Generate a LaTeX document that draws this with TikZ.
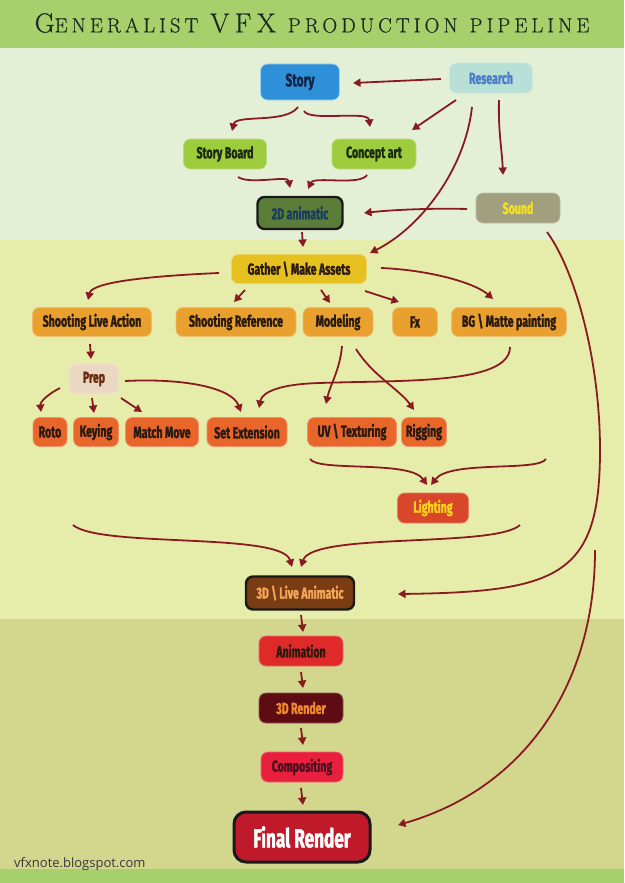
\documentclass[tikz,border=0pt]{standalone}
\usepackage{fontspec}
\usetikzlibrary{arrows.meta}
\newfontfamily\nodefont[FakeStretch=0.66, BoldFeatures={FakeBold=1.6}]{Fira Sans}
\newfontfamily\titlefont[LetterSpace=20, FakeBold=0.6]{Latin Modern Roman}
\newfontfamily\footfont{Open Sans}
\newcommand{\tbig}[1]{{\fontsize{27.5}{27.5}\selectfont #1}}
\newcommand{\tsml}[1]{{\fontsize{20.5}{20.5}\selectfont #1}}
\newcommand{\tgap}{\hspace{12pt}}
\definecolor{bandG}{HTML}{A6D06C}
\definecolor{bgA}{HTML}{E3F0D6}
\definecolor{bgB}{HTML}{E6EDAA}
\definecolor{bgC}{HTML}{D2D78D}
\definecolor{cTitle}{HTML}{1A2A1E}
\definecolor{cArrow}{HTML}{8A1A22}
\definecolor{cStory}{HTML}{2E90D8}
\definecolor{cStoryB}{HTML}{9FD2F0}
\definecolor{cStoryT}{HTML}{15254A}
\definecolor{cRes}{HTML}{B8E0D6}
\definecolor{cResT}{HTML}{4A7CC8}
\definecolor{cGreen}{HTML}{9DCC3C}
\definecolor{cGreenT}{HTML}{1C2A10}
\definecolor{cAnim}{HTML}{5B7D3A}
\definecolor{cAnimT}{HTML}{1A3D5C}
\definecolor{cSound}{HTML}{A29F7F}
\definecolor{cSoundT}{HTML}{F5E21C}
\definecolor{cGather}{HTML}{E6C01E}
\definecolor{cDark}{HTML}{2A1A10}
\definecolor{cOrange}{HTML}{EAA02E}
\definecolor{cPrep}{HTML}{EAD8C2}
\definecolor{cPrepT}{HTML}{6A2A10}
\definecolor{cRed1}{HTML}{E8662A}
\definecolor{cLight}{HTML}{D8472A}
\definecolor{cLightT}{HTML}{F9D21E}
\definecolor{cLive}{HTML}{7A3C12}
\definecolor{cLiveT}{HTML}{F3A55A}
\definecolor{cAnimation}{HTML}{E02A2A}
\definecolor{cRender}{HTML}{5C0C12}
\definecolor{cRenderT}{HTML}{F08A30}
\definecolor{cComp}{HTML}{E8203E}
\definecolor{cCompT}{HTML}{4A1020}
\definecolor{cFinal}{HTML}{C01A2A}
\tikzset{
  box/.style={rounded corners=7pt, inner sep=0pt, align=center, line width=0.8pt,
    font=\nodefont\bfseries\fontsize{16}{16}\selectfont},
  heavy/.style={box, draw=black!90, line width=2.4pt},
  conn/.style={draw=cArrow, line width=1.8pt, -{Triangle[length=7.5pt,width=8pt]}},
}
\begin{document}
\begin{tikzpicture}[x=1pt,y=-1pt]
\useasboundingbox (0,0) rectangle (624,883);
% backgrounds
\fill[bandG] (0,0) rectangle (624,48);
\fill[bgA] (0,48) rectangle (624,240);
\fill[bgB] (0,240) rectangle (624,619);
\fill[bgC] (0,619) rectangle (624,869);
\fill[bandG] (0,869) rectangle (624,883);
% title
\node[font=\titlefont, text=cTitle, inner sep=0pt] (title) at (312,23) {\tbig{G}\tsml{ENERALIST}\tgap\tbig{VFX}\tgap\tsml{PRODUCTION}\tgap\tsml{PIPELINE}};
% nodes
\node[box, fill=cStory, draw=cStoryB, text=cStoryT, minimum width=79pt, minimum height=36pt, font=\nodefont\bfseries\fontsize{18}{18}\selectfont] (story) at (300,82) {Story};
\node[box, fill=cRes, draw=cRes!70!white, text=cResT, minimum width=83pt, minimum height=30pt] (research) at (491,78) {Research};
\node[box, fill=cGreen, draw=cGreen!70!white, text=cGreenT, minimum width=83pt, minimum height=30pt] (storyboard) at (225,154) {Story Board};
\node[box, fill=cGreen, draw=cGreen!70!white, text=cGreenT, minimum width=84pt, minimum height=30pt] (concept) at (374,154) {Concept art};
\node[heavy, fill=cAnim, text=cAnimT, minimum width=85pt, minimum height=32pt] (anim2d) at (300,213) {2D animatic};
\node[box, fill=cSound, draw=cSound!70!white, text=cSoundT, minimum width=84pt, minimum height=30pt] (sound) at (518,208) {Sound};
\node[box, fill=cGather, draw=cGather!70!white, text=cDark, minimum width=135pt, minimum height=29pt] (gather) at (299,269) {Gather \textbackslash{} Make Assets};
\node[box, fill=cOrange, draw=cOrange!70!white, text=cDark, minimum width=119pt, minimum height=29pt] (sla) at (92,322) {Shooting Live Action};
\node[box, fill=cOrange, draw=cOrange!70!white, text=cDark, minimum width=120pt, minimum height=29pt] (sref) at (236,322) {Shooting Reference};
\node[box, fill=cOrange, draw=cOrange!70!white, text=cDark, minimum width=70pt, minimum height=29pt] (model) at (338,322) {Modeling};
\node[box, fill=cOrange, draw=cOrange!70!white, text=cDark, minimum width=45pt, minimum height=29pt] (fx) at (415,322) {Fx};
\node[box, fill=cOrange, draw=cOrange!70!white, text=cDark, minimum width=115pt, minimum height=29pt] (bg) at (509,322) {BG \textbackslash{} Matte painting};
\node[box, fill=cPrep, draw=cPrep!70!white, text=cPrepT, minimum width=50pt, minimum height=30pt] (prep) at (94,379) {Prep};
\node[box, fill=cRed1, draw=cRed1!70!white, text=cDark, minimum width=34pt, minimum height=29pt] (roto) at (50,432) {Roto};
\node[box, fill=cRed1, draw=cRed1!70!white, text=cDark, minimum width=45pt, minimum height=29pt] (keying) at (96,432) {Keying};
\node[box, fill=cRed1, draw=cRed1!70!white, text=cDark, minimum width=73pt, minimum height=29pt] (matchmove) at (162,432) {Match Move};
\node[box, fill=cRed1, draw=cRed1!70!white, text=cDark, minimum width=80pt, minimum height=29pt] (setext) at (247,432) {Set Extension};
\node[box, fill=cRed1, draw=cRed1!70!white, text=cDark, minimum width=89pt, minimum height=29pt] (uv) at (352,432) {UV \textbackslash{} Texturing};
\node[box, fill=cRed1, draw=cRed1!70!white, text=cDark, minimum width=45pt, minimum height=29pt] (rigging) at (424,432) {Rigging};
\node[box, fill=cLight, draw=cLight!70!white, text=cLightT, minimum width=71pt, minimum height=30pt] (lighting) at (433,508) {Lighting};
\node[heavy, fill=cLive, text=cLiveT, minimum width=108pt, minimum height=33pt] (live3d) at (300,593) {3D \textbackslash{} Live Animatic};
\node[box, fill=cAnimation, draw=cAnimation!70!white, text=cDark, minimum width=84pt, minimum height=30pt] (animation) at (301,651) {Animation};
\node[box, fill=cRender, draw=cRender!70!white, text=cRenderT, minimum width=84pt, minimum height=30pt] (render3d) at (301,708) {3D Render};
\node[box, fill=cComp, draw=cComp!70!white, text=cCompT, minimum width=82pt, minimum height=30pt] (comp) at (302,767) {Compositing};
\node[heavy, fill=cFinal, text=white, line width=3pt, rounded corners=12pt, minimum width=136pt, minimum height=50pt, font=\nodefont\bfseries\fontsize{26}{26}\selectfont] (final) at (302,837) {Final Render};
% footer
\node[font=\footfont\fontsize{13}{13}\selectfont, text=black!78, anchor=west, inner sep=0pt] (foot) at (14,864) {vfxnote.blogspot.com};
% free ends
\coordinate (ll) at (310,459);
\coordinate (lr) at (546,459);
\coordinate (l3) at (73,525);
\coordinate (r3) at (520,525);
\coordinate (rf) at (595,550);
% connectors
\draw[conn] ([shift={(-50,1)}]research.center) -- ([shift={(53,1)}]story.center);
\draw[conn] ([shift={(-2,25)}]story.center) .. controls (286,124) and (236,114) .. ([shift={(7,-23)}]storyboard.center);
\draw[conn] ([shift={(4,29)}]story.center) .. controls (310,122) and (368,110) .. ([shift={(-4,-27)}]concept.center);
\draw[conn] ([shift={(-35,22)}]research.center) -- ([shift={(38,-24)}]concept.center);
\draw[conn] ([shift={(-19,29)}]research.center) .. controls (465,170) and (420,228) .. ([shift={(71,-16)}]gather.center);
\draw[conn] ([shift={(8,22)}]research.center) .. controls (498,130) and (502,150) .. ([shift={(-15,-33)}]sound.center);
\draw[conn] ([shift={(13,23)}]storyboard.center) .. controls (250,185) and (288,175) .. ([shift={(-10,-25)}]anim2d.center);
\draw[conn] ([shift={(-7,21)}]concept.center) .. controls (360,186) and (314,176) .. ([shift={(8,-24)}]anim2d.center);
\draw[conn] ([shift={(-51,1)}]sound.center) .. controls (430,208) and (390,210) .. ([shift={(64,0)}]anim2d.center);
\draw[conn] ([shift={(2,19)}]anim2d.center) -- ([shift={(4,-22)}]gather.center);
\draw[conn] ([shift={(29,24)}]sound.center) .. controls (575,270) and (600,360) .. (600,450) .. controls (600,575) and (560,592) .. ([shift={(98,1)}]live3d.center);
\draw[conn] ([shift={(-80,4)}]gather.center) .. controls (150,276) and (92,282) .. ([shift={(-4,-22)}]sla.center);
\draw[conn] ([shift={(-54,21)}]gather.center) -- ([shift={(-2,-20)}]sref.center);
\draw[conn] ([shift={(22,21)}]gather.center) -- ([shift={(-8,-19)}]model.center);
\draw[conn] ([shift={(66,22)}]gather.center) -- ([shift={(-16,-20)}]fx.center);
\draw[conn] ([shift={(82,-1)}]gather.center) .. controls (430,270) and (475,283) .. ([shift={(-16,-23)}]bg.center);
\draw[conn] ([shift={(-2,22)}]sla.center) -- ([shift={(-3,-20)}]prep.center);
\draw[conn] ([shift={(-34,9)}]prep.center) .. controls (48,394) and (40,402) .. ([shift={(-9,-20)}]roto.center);
\draw[conn] ([shift={(-2,19)}]prep.center) -- ([shift={(-2,-19)}]keying.center);
\draw[conn] ([shift={(27,19)}]prep.center) -- ([shift={(-20,-20)}]matchmove.center);
\draw[conn] ([shift={(31,2)}]prep.center) .. controls (185,378) and (232,388) .. ([shift={(-6,-20)}]setext.center);
\draw[conn] ([shift={(1,25)}]bg.center) .. controls (510,385) and (400,380) .. (320,383) .. controls (280,384) and (262,392) .. ([shift={(12,-24)}]setext.center);
\draw[conn] ([shift={(4,24)}]model.center) .. controls (340,370) and (330,385) .. ([shift={(-26,-28)}]uv.center);
\draw[conn] ([shift={(18,27)}]model.center) .. controls (372,375) and (400,390) .. ([shift={(-10,-22)}]rigging.center);
\draw[conn] (ll) .. controls (318,472) and (410,460) .. ([shift={(-6,-23)}]lighting.center);
\draw[conn] (lr) .. controls (538,472) and (450,460) .. ([shift={(-2,-23)}]lighting.center);
\draw[conn] (l3) .. controls (100,548) and (282,532) .. ([shift={(-8,-26)}]live3d.center);
\draw[conn] (r3) .. controls (495,548) and (312,532) .. ([shift={(1,-26)}]live3d.center);
\draw[conn] ([shift={(1,22)}]live3d.center) -- ([shift={(2,-19)}]animation.center);
\draw[conn] ([shift={(0,21)}]animation.center) -- ([shift={(2,-20)}]render3d.center);
\draw[conn] ([shift={(0,20)}]render3d.center) -- ([shift={(1,-22)}]comp.center);
\draw[conn] ([shift={(-1,21)}]comp.center) -- ([shift={(1,-32)}]final.center);
\draw[conn] (rf) .. controls (595,690) and (520,790) .. ([shift={(96,-12)}]final.center);
\end{tikzpicture}
\end{document}
